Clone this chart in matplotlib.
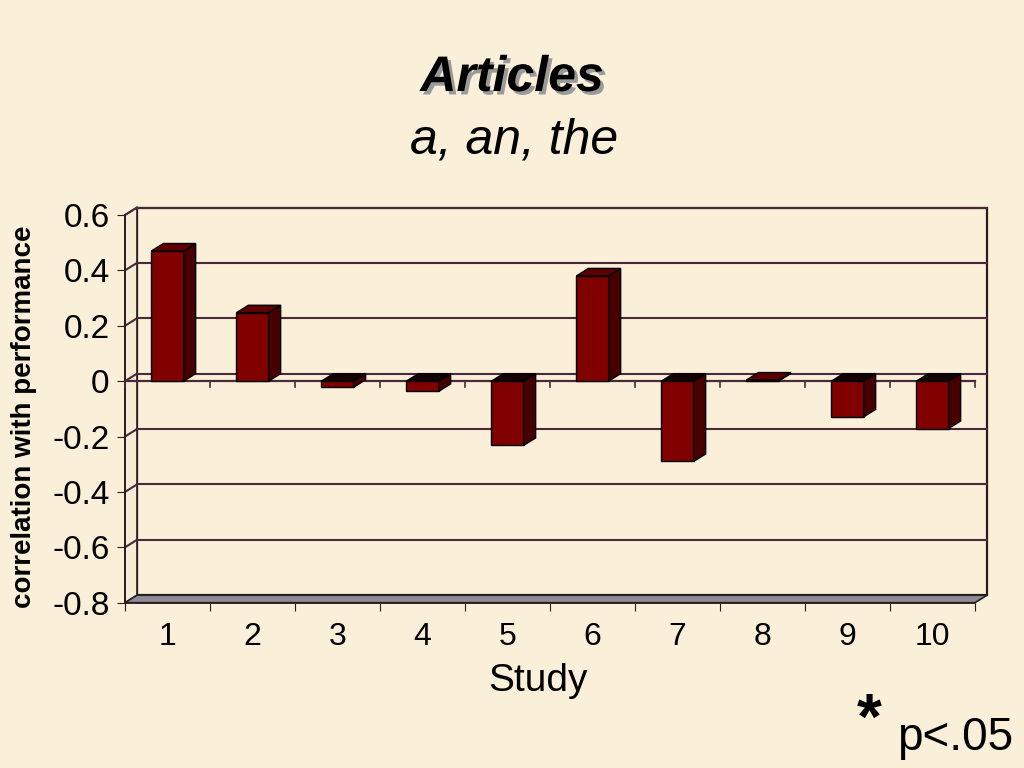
import matplotlib
matplotlib.use("Agg")
import matplotlib.pyplot as plt
import matplotlib.patheffects as pe
from matplotlib.patches import Polygon

plt.rcParams['font.family'] = ['Liberation Sans', 'DejaVu Sans']
plt.rcParams['axes.unicode_minus'] = False

# data
studies = ["1", "2", "3", "4", "5", "6", "7", "8", "9", "10"]
correlations = [0.47, 0.247, -0.022, -0.037, -0.232, 0.38, -0.29, 0.004, -0.129, -0.171]
y_ticks = [0.6, 0.4, 0.2, 0, -0.2, -0.4, -0.6, -0.8]
y_labels = ["0.6", "0.4", "0.2", "0", "-0.2", "-0.4", "-0.6", "-0.8"]

bg = "#FAEFD8"
grid_col = "#4A2A3A"
front_col = "#800000"
side_col = "#460000"
top_col = "#5E0000"
neg_top_col = "#140000"

fig = plt.figure(figsize=(10.24, 7.68), dpi=100)
fig.patch.set_facecolor(bg)

# front plane of the 3d box in figure coords (pixels 125..975, 215..602.7)
ax = fig.add_axes([125 / 1024, (768 - 602.7) / 768, 850 / 1024, 387.7 / 768])
ax.set_facecolor("none")
ymin, ymax = -0.8, 0.6
ax.set_xlim(0.5, 10.5)
ax.set_ylim(ymin, ymax)

# depth offset (12 px right, 7.5 px up) in data units
dx = 12 / 85.0
dy = 7.5 / (387.7 / 1.4)
x0, x1 = 0.5, 10.5

# back wall
ax.add_patch(Polygon([(x0 + dx, ymin + dy), (x1 + dx, ymin + dy), (x1 + dx, ymax + dy), (x0 + dx, ymax + dy)],
                     closed=True, facecolor=bg, edgecolor="#2a1a1a", lw=1.6, clip_on=False, zorder=1))
# left wall
ax.add_patch(Polygon([(x0, ymin), (x0 + dx, ymin + dy), (x0 + dx, ymax + dy), (x0, ymax)],
                     closed=True, facecolor="#F6EBD4", edgecolor="#2a1a1a", lw=1.2, clip_on=False, zorder=1))
# gridlines on back and left wall
for v in y_ticks:
    if v == ymin:
        continue
    ax.plot([x0 + dx, x1 + dx], [v + dy, v + dy], color=grid_col, lw=1.5, clip_on=False, zorder=2)
    ax.plot([x0, x0 + dx], [v, v + dy], color=grid_col, lw=1.5, clip_on=False, zorder=2)

# floor slab
ax.add_patch(Polygon([(x0, ymin), (x1, ymin), (x1 + dx, ymin + dy), (x0 + dx, ymin + dy)],
                     closed=True, facecolor="#8E8A96", edgecolor="#222222", lw=1.2, clip_on=False, zorder=2))

# category axis at zero with tick marks
ax.plot([x0, x1], [0, 0], color=grid_col, lw=1.6, clip_on=False, zorder=3)
for i in range(len(studies) + 1):
    xb = x0 + i
    ax.plot([xb, xb], [0, -0.02], color=grid_col, lw=1.2, clip_on=False, zorder=3)

# bars
w = 0.19
for i, v in enumerate(correlations):
    xc = i + 1
    lo, hi = min(v, 0), max(v, 0)
    face = Polygon([(xc - w, lo), (xc + w, lo), (xc + w, hi), (xc - w, hi)], closed=True,
                   facecolor=front_col, edgecolor="black", lw=1.0, zorder=5)
    side = Polygon([(xc + w, lo), (xc + w + dx, lo + dy), (xc + w + dx, hi + dy), (xc + w, hi)], closed=True,
                   facecolor=side_col, edgecolor="black", lw=1.0, zorder=5)
    top = Polygon([(xc - w, hi), (xc + w, hi), (xc + w + dx, hi + dy), (xc - w + dx, hi + dy)], closed=True,
                  facecolor=top_col if v > 0 else neg_top_col, edgecolor="black", lw=1.0, zorder=5)
    for p in (face, side, top):
        ax.add_patch(p)

# axes styling
for s in ("top", "right"):
    ax.spines[s].set_visible(False)
ax.spines["left"].set_color("#2a1a1a")
ax.spines["bottom"].set_color("#2a1a1a")
ax.spines["left"].set_linewidth(1.2)
ax.spines["bottom"].set_linewidth(1.2)
ax.set_yticks(y_ticks)
ax.set_yticklabels(y_labels, fontsize=24)
ax.set_xticks([x0 + i for i in range(len(studies) + 1)])
ax.set_xticklabels([])
ax.set_xticks(range(1, len(studies) + 1), minor=True)
ax.set_xticklabels(studies, minor=True, fontsize=23)
ax.tick_params(axis="x", which="major", length=6, direction="out", color="#2a1a1a")
ax.tick_params(axis="x", which="minor", length=0, pad=14)
ax.tick_params(axis="y", length=6, direction="out", color="#2a1a1a", pad=5)

fig.text(538 / 1024, 1 - 681 / 768, "Study", fontsize=28, ha="center", va="center")
fig.text(24 / 1024, 1 - 417 / 768, "correlation with performance", fontsize=20, fontweight="bold",
         rotation=90, ha="center", va="center")

fig.text(512 / 1024, 1 - 78 / 768, "Articles", fontsize=36, fontweight="bold", style="italic",
         ha="center", va="center",
         path_effects=[pe.SimplePatchShadow(offset=(2.5, -2.5), shadow_rgbFace="#9a9a9a", alpha=1), pe.Normal()])
fig.text(514 / 1024, 1 - 140 / 768, "a, an, the", fontsize=36, style="italic", ha="center", va="center")

fig.text(869 / 1024, 1 - 722 / 768, "*", fontsize=46, fontweight="bold", ha="center", va="center")
fig.text(955 / 1024, 1 - 738 / 768, "p<.05", fontsize=33, ha="center", va="center")

fig.savefig("out.png", dpi=100, facecolor=bg)
